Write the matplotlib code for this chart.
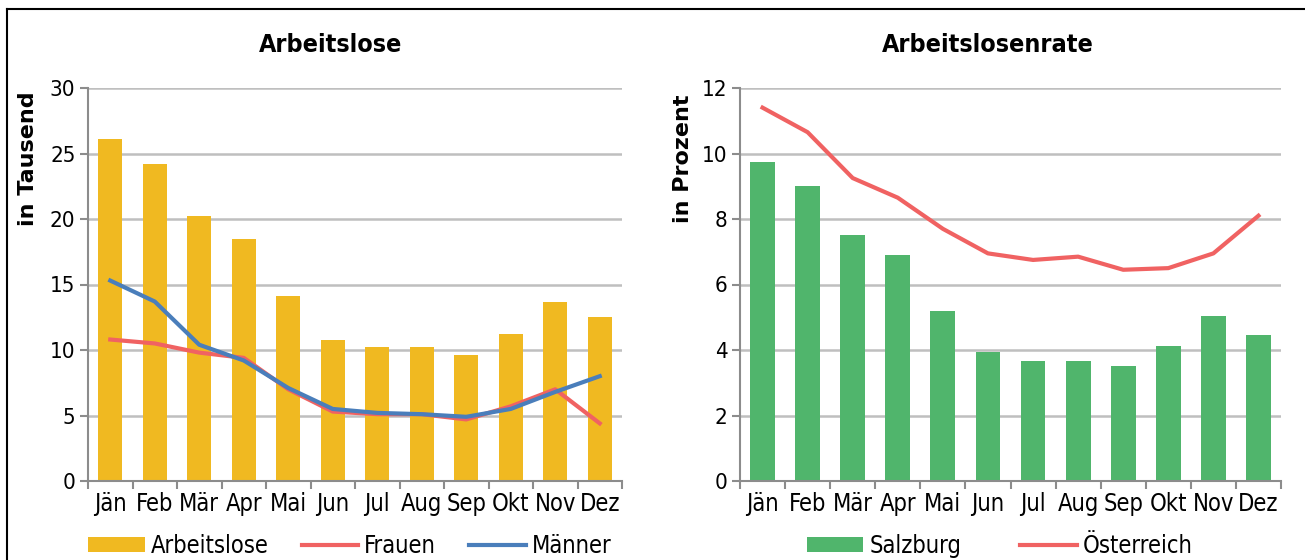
import numpy as np
import matplotlib
matplotlib.use("Agg")
import matplotlib.pyplot as plt
from matplotlib.lines import Line2D

plt.rcParams['font.family'] = ['DejaVu Sans']
plt.rcParams['font.stretch'] = 'condensed'

months = ["Jän", "Feb", "Mär", "Apr", "Mai", "Jun", "Jul", "Aug", "Sep", "Okt", "Nov", "Dez"]
arbeitslose = [26.1, 24.2, 20.2, 18.5, 14.1, 10.8, 10.2, 10.2, 9.6, 11.2, 13.7, 12.5]
frauen = [10.8, 10.5, 9.8, 9.4, 7.0, 5.3, 5.1, 5.1, 4.7, 5.7, 7.0, 4.4]
maenner = [15.3, 13.7, 10.4, 9.2, 7.1, 5.5, 5.2, 5.1, 4.9, 5.5, 6.8, 8.0]
salzburg = [9.75, 9.0, 7.5, 6.9, 5.2, 3.95, 3.65, 3.67, 3.52, 4.12, 5.05, 4.45]
oesterreich = [11.4, 10.65, 9.25, 8.65, 7.7, 6.95, 6.75, 6.85, 6.45, 6.5, 6.95, 8.1]

GOLD = "#F0B921"
RED = "#F06262"
BLUE = "#4A7EBB"
GREEN = "#50B56C"
GRID = "#BFBFBF"
AXIS = "#8C8C8C"
FS = 16

fig = plt.figure(figsize=(13.05, 5.6), dpi=100)
ax1 = fig.add_axes([88 / 1305, 1 - 481 / 560, 534 / 1305, 393 / 560])
ax2 = fig.add_axes([740 / 1305, 1 - 481 / 560, 541 / 1305, 393 / 560])

x = np.arange(len(months))


def style(ax, ymax, ystep, ylabel, title, lx, tx):
    ax.set_xlim(-0.5, len(months) - 0.5)
    ax.set_ylim(0, ymax)
    ax.set_yticks(np.arange(0, ymax + 0.01, ystep))
    ax.yaxis.grid(True, color=GRID, lw=1.8)
    ax.set_axisbelow(True)
    for s in ["top", "right"]:
        ax.spines[s].set_visible(False)
    for s in ["left", "bottom"]:
        ax.spines[s].set_color(AXIS)
        ax.spines[s].set_linewidth(1.5)
    ax.set_xticks(x)
    ax.set_xticklabels(months, fontsize=FS + 1)
    ax.set_xticks(np.arange(-0.5, len(months)), minor=True)
    ax.tick_params(axis="x", which="major", length=0, pad=8)
    ax.tick_params(axis="x", which="minor", length=6, width=1.5, color=AXIS)
    ax.tick_params(axis="y", length=6, width=1.5, color=AXIS, labelsize=FS, pad=3)
    ax.set_ylabel(ylabel, fontsize=FS, fontweight="bold", fontstretch="normal")
    ax.yaxis.set_label_coords(lx, 0.82)
    ax.set_title(title, fontsize=FS + 2, fontweight="bold", pad=26, x=tx)


leg_kw = dict(frameon=False, fontsize=FS + 1, handlelength=2.4, handleheight=0.65,
              handletextpad=0.25, borderaxespad=0, loc="upper center")

b1 = ax1.bar(x, arbeitslose, width=0.55, color=GOLD, label="Arbeitslose", zorder=2)
l1, = ax1.plot(x, frauen, color=RED, lw=3, label="Frauen", zorder=3)
l2, = ax1.plot(x, maenner, color=BLUE, lw=3, label="Männer", zorder=4)
style(ax1, 30, 5, "in Tausend", "Arbeitslose", -0.093, 0.455)
ax1.legend(handles=[b1, l1, l2], bbox_to_anchor=(0.49, -0.11), ncol=3,
           columnspacing=1.4, **leg_kw)

b2 = ax2.bar(x, salzburg, width=0.55, color=GREEN, label="Salzburg", zorder=2)
l3, = ax2.plot(x, oesterreich, color=RED, lw=3, label="Österreich", zorder=3)
style(ax2, 12, 2, "in Prozent", "Arbeitslosenrate", -0.086, 0.458)
ax2.legend(handles=[b2, l3], bbox_to_anchor=(0.48, -0.11), ncol=2,
           columnspacing=2.5, **leg_kw)

# outer frame
fig.add_artist(Line2D([7 / 1305, 1], [1 - 9 / 560, 1 - 9 / 560], color="black", lw=1.5,
                      transform=fig.transFigure))
fig.add_artist(Line2D([7 / 1305, 7 / 1305], [0, 1 - 9 / 560], color="black", lw=1.5,
                      transform=fig.transFigure))

fig.savefig("out.png", dpi=100)
